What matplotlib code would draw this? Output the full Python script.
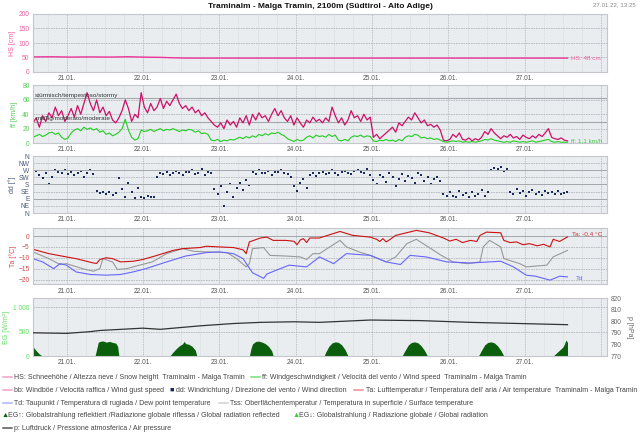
import numpy as np
import pandas as pd
import matplotlib
matplotlib.use("Agg")
import matplotlib.pyplot as plt
import matplotlib.dates as mdates
from matplotlib.lines import Line2D

plt.rcParams['font.family'] = ['Liberation Sans', 'DejaVu Sans']

# time base: first value 20.01.22 13:25, hourly steps
start = pd.Timestamp('2022-01-20 13:25')
x_end = pd.Timestamp('2022-01-28 01:50')
day_ticks = pd.date_range('2022-01-21', '2022-01-28', freq='D')
day_labels = ['21.01.', '22.01.', '23.01.', '24.01.', '25.01.', '26.01.', '27.01.', '']

# snow height
hs_hours = [0, 6, 12, 18, 24, 30, 36, 40, 44, 48, 60, 168]
hs = [52, 52.5, 51.5, 52, 51.5, 52.5, 51, 50.5, 49, 48, 48, 48]

# wind gust (hourly) km/h
gust = [28, 35, 22, 38, 30, 42, 35, 50, 38, 45, 30, 38,
        48, 36, 52, 40, 55, 70, 55, 45, 60, 42, 50, 38, 44, 32, 28,
        35, 45, 60, 48, 30, 40, 35, 70, 50, 42, 55, 45, 50, 62,
        48, 58, 52, 60, 68, 55, 48, 52, 45, 50, 42, 46, 38, 42, 35,
        30, 25, 22, 28, 20, 32, 25, 30, 22, 35, 28, 38, 25, 40, 32,
        42, 35, 38, 30, 40, 48, 38, 45, 35, 30, 38, 25, 35, 28,
        22, 32, 28, 36, 30, 33,
        28, 35, 30, 50, 38, 28, 35, 25, 32, 45, 35, 38, 30, 40, 32, 36,
        8, 12, 6, 10, 14, 18, 22, 15, 28, 24, 30, 36, 32, 42, 35,
        28, 32, 24, 26, 22, 25, 18, 4, 3, 5, 12, 8, 14,
        5, 4, 7, 3, 6, 4, 8, 16, 12, 20, 14, 10,
        6, 10, 8, 12, 7, 9, 5, 11, 8, 6, 10, 7, 12, 9, 14, 20,
        8, 6, 5, 7, 4, 3]

# mean wind speed (hourly) km/h
wind = [8, 10, 12, 9, 11, 14, 15, 12, 14, 8, 5, 7,
        14, 18, 20, 17, 22, 19, 21, 18, 20, 15, 17, 12, 14, 10, 12,
        15, 20, 33, 18, 8, 4, 6, 18, 16, 17, 19, 16, 18, 20,
        17, 19, 18, 20, 18, 16, 18, 17, 19, 18, 15, 17, 13, 14, 12,
        4, 3, 5, 2, 4, 3, 5, 4, 6, 8, 6, 9, 7, 10, 8,
        12, 10, 13, 11, 14, 13, 15, 12, 10, 6, 4, 2, 5, 3,
        4, 8, 10, 7, 11, 9,
        10, 8, 12, 9, 11, 4, 3, 5, 3, 8, 10, 9, 11, 8, 10, 9,
        3, 2, 4, 3, 5, 3, 4, 2, 5, 3, 8, 10, 9, 12, 11,
        7, 8, 6, 7, 5, 6, 4, 2, 1, 2, 3, 2, 3,
        1, 2, 1, 2, 1, 2, 3, 5, 4, 6, 4, 3,
        2, 1, 2, 1, 3, 2, 1, 2, 1, 2, 3, 1, 2, 3, 4, 5,
        2, 1, 2, 1, 1, 1.1]

# wind direction (hourly) degrees
wdir = [250, 265, 240, 220, 255, 180, 230, 270,
        262, 255, 270, 248, 260, 240, 255, 265, 230, 250, 270, 245,
        140, 125, 130, 120, 135, 115, 128,
        220, 150, 100, 190, 130, 95, 160,
        100, 95, 105, 98, 102,
        230, 250, 245, 260, 240, 255, 265, 250, 238, 258, 262, 270, 248, 255, 275, 240, 260, 252,
        150, 120, 170, 45, 135, 180, 100,
        160, 190, 145, 210, 175,
        260, 245, 270, 255, 250, 265, 240, 258, 262, 272, 250, 245, 230, 170, 140, 190, 215, 160,
        240, 255, 235, 250,
        260, 245, 255, 270, 250, 240, 262, 268, 255, 245, 265, 270, 258, 250, 275, 240,
        210, 180, 240, 225, 195, 250, 230, 170, 215, 245, 200, 235, 220, 190, 250, 240, 205, 225,
        180, 215, 230, 200,
        120, 105, 135, 110, 98, 140, 115, 125, 100, 130, 110, 120, 145, 105, 130,
        270, 285, 275, 290, 265, 280,
        135, 120, 150, 125, 140, 110, 130, 145, 120, 135, 115, 140, 125, 130, 118, 138, 122, 128, 132]

# air temperature
ta_hours = [0, 5, 10.5, 13.5, 19, 20, 21, 23, 25, 27.5, 31.5, 34.5, 39, 44, 47, 52.5, 54.5,
            58.5, 63, 66, 67, 68, 71.5, 73.5, 75.5, 79.5, 82, 83, 84, 85, 86, 87, 90, 96.5,
            100.5, 106, 108, 109, 110, 111, 112, 114, 120.5, 124.5, 129, 131, 133, 135, 137.5,
            139.5, 140.5, 142.5, 147, 148, 150, 152, 154, 156, 158.5, 160.5, 162.5, 163.5, 165.5, 168]
ta = [-6.1, -8.1, -9.6, -10.4, -12.4, -12.6, -10.8, -10.0, -10.4, -11.9, -11.6, -10.8, -8.9,
      -6.6, -5.8, -5.3, -4.7, -5.0, -5.3, -6.3, -8.1, -2.7, -0.9, -0.5, -2.0, -2.0, -2.4, -4.0,
      -1.8, -1.2, -3.0, -0.9, -0.9, 2.1, 0.3, -0.5, -1.5, -2.5, -1.2, -2.7, -1.8, 0.3, 2.6, 1.5,
      -0.9, -2.3, -1.5, -3.0, -2.0, -2.5, 0.3, 1.8, 1.5, -2.0, -3.0, -2.7, -4.0, -3.5, -4.5,
      -3.8, -5.0, -1.5, -2.5, -0.4]

# surface temperature
tss_hours = [0, 5, 8.5, 10.5, 15.5, 19, 21, 22, 25, 26.5, 29.5, 33.5, 37.5, 42, 47, 50.5, 54.5,
             61, 64, 67, 68, 69, 72.5, 74.5, 79.5, 84, 86, 88, 90, 96.5, 98.5, 102.5, 106, 111,
             114, 117.5, 120.5, 123.5, 128, 132, 136.5, 140.5, 141.5, 143.5, 147, 148, 153, 155,
             161.5, 163.5, 168]
tss = [-7.3, -10.4, -13.1, -12.7, -15.0, -16.2, -15.0, -10.4, -11.9, -15.4, -15.0, -13.4, -11.9,
       -8.1, -5.8, -7.0, -7.3, -7.6, -10.4, -14.2, -12.7, -5.8, -5.3, -8.9, -9.2, -9.6, -10.8,
       -8.1, -8.1, -2.0, -5.0, -7.3, -8.9, -11.9, -9.6, -3.5, -1.5, -4.3, -8.6, -11.9, -12.7,
       -11.9, -5.0, -2.0, -5.0, -10.4, -12.7, -14.2, -13.4, -9.6, -6.6]

# dew point
td_hours = [0, 3, 6.5, 8.5, 10.5, 13.5, 18, 23, 27.5, 31.5, 35.5, 42, 48, 54.5, 58.5, 63, 66, 69,
            72.5, 73.5, 76.5, 80.5, 86, 89, 90, 94.5, 98.5, 106, 111, 115.5, 118.5, 123.5, 130,
            137.5, 147, 151, 155, 158, 162.5, 165.5, 168]
td = [-10.4, -11.9, -15.0, -12.7, -13.4, -16.5, -17.7, -18.0, -17.7, -16.5, -15.0, -11.9, -9.2,
      -7.6, -7.3, -8.1, -10.4, -16.9, -19.5, -17.5, -15.7, -13.4, -14.2, -10.8, -9.6, -12.7,
      -8.1, -8.9, -11.9, -13.1, -8.9, -9.6, -11.9, -12.4, -11.6, -14.2, -18.0, -18.5, -20.3,
      -18.5, -18.8]

# air pressure
p_hours = [0, 10.5, 18, 21, 34.5, 40, 52.5, 63, 71.5, 82, 90, 106, 122, 137.5, 153, 168]
p = [790, 789.5, 791, 792, 794, 793, 796, 798, 799, 799.5, 799, 801, 800.5, 799, 798, 797]

# global radiation
eg_hours = [0, 1, 2, 3,
            19.5, 20, 20.5, 21, 22, 23, 24, 25, 26, 26.6, 27,
            43, 44, 45, 46, 47, 47.5, 48, 49, 50, 51, 51.5,
            68, 68.5, 69, 70, 71, 72, 73, 74, 75, 75.5,
            91.5, 92, 93, 94, 95, 96, 97, 98, 99,
            116, 117, 118, 119, 120, 121, 122, 123, 124,
            140, 141, 142, 143, 144, 145, 146, 147, 148,
            163.5, 164.5, 165.5, 166.5, 167, 167.5, 168, 168.01]
eg = [190, 110, 40, 0,
      0, 140, 280, 300, 310, 285, 300, 280, 265, 200, 0,
      0, 80, 150, 210, 250, 300, 255, 240, 200, 120, 0,
      0, 150, 250, 300, 305, 285, 255, 200, 110, 0,
      0, 80, 200, 270, 290, 280, 230, 140, 0,
      0, 120, 230, 280, 290, 270, 210, 120, 0,
      0, 120, 230, 280, 290, 270, 210, 120, 0,
      0, 60, 120, 180, 240, 330, 280, 0]


def at(hours):
    return start + pd.to_timedelta(np.asarray(hours, dtype=float), unit='h')


def hourly(vals):
    return at(np.arange(len(vals)))


fig = plt.figure(figsize=(6.4, 4.36), dpi=100)


def box(top, bottom):
    return [33 / 640, 1 - bottom / 436, 574 / 640, (bottom - top) / 436]


def style(ax, tcol):
    ax.set_facecolor('#e9edf0')
    for s in ax.spines.values():
        s.set_color('#c4c8cc')
        s.set_linewidth(0.8)
    ax.set_xlim(start, x_end)
    ax.set_xticks(day_ticks)
    ax.set_xticklabels(day_labels)
    ax.xaxis.set_minor_locator(mdates.HourLocator(byhour=[6, 12, 18]))
    ax.tick_params(axis='both', which='both', length=0, labelsize=4.8, pad=2.5)
    ax.tick_params(axis='x', labelcolor='#555555')
    ax.tick_params(axis='y', labelcolor=tcol)
    ax.grid(True, which='major', axis='x', color='#aeb2b6', lw=0.6, ls=(0, (1, 1)))
    ax.grid(True, which='minor', axis='x', color='#d0d4d8', lw=0.5, ls=(0, (1, 1)))
    ax.grid(True, which='major', axis='y', color='#b4b8bc', lw=0.6, ls=(0, (2, 1)))
    ax.set_axisbelow(True)


def ylab(ypx, text, color, x=12):
    fig.text(x / 640, 1 - ypx / 436, text, rotation=90, fontsize=5, color=color,
             ha='center', va='center')


# HS panel
ax_hs = fig.add_axes(box(14, 72))
style(ax_hs, '#f0609e')
ax_hs.plot(at(hs_hours), hs, color='#ee3399', lw=1.0)
ax_hs.set_ylim(0, 200)
ax_hs.set_yticks([0, 50, 100, 150, 200])
ax_hs.text(at([169])[0], 48, 'HS: 48 cm', fontsize=4.6, color='#f0609e', va='center')
ylab(43, 'HS [cm]', '#f0609e')

# wind panel
ax_ff = fig.add_axes(box(85.5, 143))
style(ax_ff, '#55cc55')
ax_ff.axhline(62, color='#a4a8ac', lw=0.8)
ax_ff.axhline(29, color='#a4a8ac', lw=0.8)
ax_ff.text(0.004, 63, 'stürmisch/tempestoso/stormy', transform=ax_ff.get_yaxis_transform(),
           fontsize=4.6, color='#333333', va='bottom')
ax_ff.text(0.004, 30, 'mäßig/moderato/moderate', transform=ax_ff.get_yaxis_transform(),
           fontsize=4.6, color='#333333', va='bottom')
ax_ff.plot(hourly(gust), gust, color='#cc1166', lw=0.9)
ax_ff.plot(hourly(wind), wind, color='#22cc22', lw=0.8)
ax_ff.set_ylim(0, 80)
ax_ff.set_yticks([0, 20, 40, 60, 80])
ax_ff.text(at([169])[0], 3, 'ff: 1,1 km/h', fontsize=4.6, color='#44cc44', va='center')
ylab(114, 'ff [km/h]', '#55cc55', x=14)

# wind direction panel
ax_dd = fig.add_axes(box(156, 213))
style(ax_dd, '#4a5a7a')
ax_dd.scatter(hourly(wdir), wdir, s=2.4, marker='s', color='#1a2a5a', lw=0)
ax_dd.set_ylim(0, 360)
ax_dd.set_yticks(np.arange(0, 361, 45))
ax_dd.set_yticklabels(['N', 'NE', 'E', 'SE', 'S', 'SW', 'W', 'NW', 'N'])
for v in (90, 180, 270):
    ax_dd.axhline(v, color='#a4a8ac', lw=0.7)
ylab(185, 'dd [°]', '#4a5a7a')

# temperature panel
ax_ta = fig.add_axes(box(228, 284.5))
style(ax_ta, '#d04a4a')
ax_ta.axhline(0, color='#a4a8ac', lw=0.7)
ax_ta.plot(at(tss_hours), tss, color='#999999', lw=0.8)
ax_ta.plot(at(td_hours), td, color='#6666ff', lw=0.8)
ax_ta.plot(at(ta_hours), ta, color='#cc1111', lw=0.8)
ax_ta.set_ylim(-22.3, 3.7)
ax_ta.set_yticks([-20, -15, -10, -5, 0])
ax_ta.text(at([169.5])[0], 1.0, 'Ta: -0,4 °C', fontsize=4.6, color='#cc3333', va='center')
ax_ta.text(at([170.5])[0], -19.5, 'Td', fontsize=4.6, color='#6666ff', va='center')
ylab(256, 'Ta [°C]', '#d04a4a', x=13)

# radiation / pressure panel
ax_eg = fig.add_axes(box(298, 356))
style(ax_eg, '#66dd66')
ax_eg.fill_between(at(eg_hours), 0, eg, color='#0b5e0b', lw=0)
ax_eg.set_ylim(0, 1193)
ax_eg.set_yticks([0, 500, 1000])
ax_eg.set_yticklabels(['0', '500', '1 000'])
ylab(327, 'EG [W/m²]', '#66dd66', x=7)

ax_p = ax_eg.twinx()
ax_p.plot(at(p_hours), p, color='#333333', lw=0.9)
ax_p.set_ylim(770, 820)
ax_p.set_yticks(np.arange(770, 821, 10))
ax_p.tick_params(axis='y', length=0, labelsize=4.8, pad=3, labelcolor='#666666')
for s in ax_p.spines.values():
    s.set_visible(False)
ax_p.set_xlim(start, x_end)
fig.text(629 / 640, 1 - 327 / 436, 'p [hPa]', rotation=270, fontsize=5, color='#666666',
         ha='center', va='center')

# title and time stamp
fig.text(0.5, 1 - 7 / 436, 'Traminalm - Malga Tramin, 2100m (Südtirol - Alto Adige)',
         fontsize=6.0, fontweight='bold', ha='center', va='center', color='#111111')
fig.text(636 / 640, 1 - 5 / 436, '27.01.22, 13:25', fontsize=4.4, color='#888888',
         ha='right', va='center')


# legend
def leg(px, py, kind, color, label):
    y = 1 - py / 436
    if kind == 'line':
        fig.add_artist(Line2D([px / 640, (px + 9) / 640], [y, y], color=color, lw=1.1,
                              transform=fig.transFigure))
        tx = px + 11.5
    else:
        fig.text(px / 640, y, kind, fontsize=5.2, color=color, va='center')
        tx = px + 6
    fig.text(tx / 640, y, label, fontsize=5.0, color='#444444', va='center')


leg(3, 377, 'line', '#f4a0c4',
    'HS: Schneehöhe / Altezza neve / Snow height  Traminalm - Malga Tramin')
leg(251, 377, 'line', '#77dd77',
    'ff: Windgeschwindigkeit / Velocità del vento / Wind speed  Traminalm - Malga Tramin')
leg(3, 390, 'line', '#f0a0c8', 'bb: Windböe / Velocità raffica / Wind gust speed')
leg(170, 390, '■', '#1a2a5a', 'dd: Windrichtung / Direzione del vento / Wind direction')
leg(354, 390, 'line', '#f09090',
    "Ta: Lufttemperatur / Temperatura dell' aria / Air temperature  Traminalm - Malga Tramin")
leg(3, 403, 'line', '#b0b0ff', 'Td: Taupunkt / Temperatura di rugiada / Dew point temperature')
leg(219, 403, 'line', '#d0d0d0',
    'Tss: Oberflächentemperatur / Temperatura in superficie / Surface temperature')
leg(2, 415, '▲', '#0b5e0b',
    'EG↑: Globalstrahlung reflektiert /Radiazione globale riflessa / Global radiation reflected')
leg(293, 415, '▲', '#33cc33', 'EG↓: Globalstrahlung / Radiazione globale / Global radiation')
leg(3, 428, 'line', '#555555', 'p: Luftdruck / Pressione atmosferica / Air pressure')

fig.savefig('out.png', dpi=100)
